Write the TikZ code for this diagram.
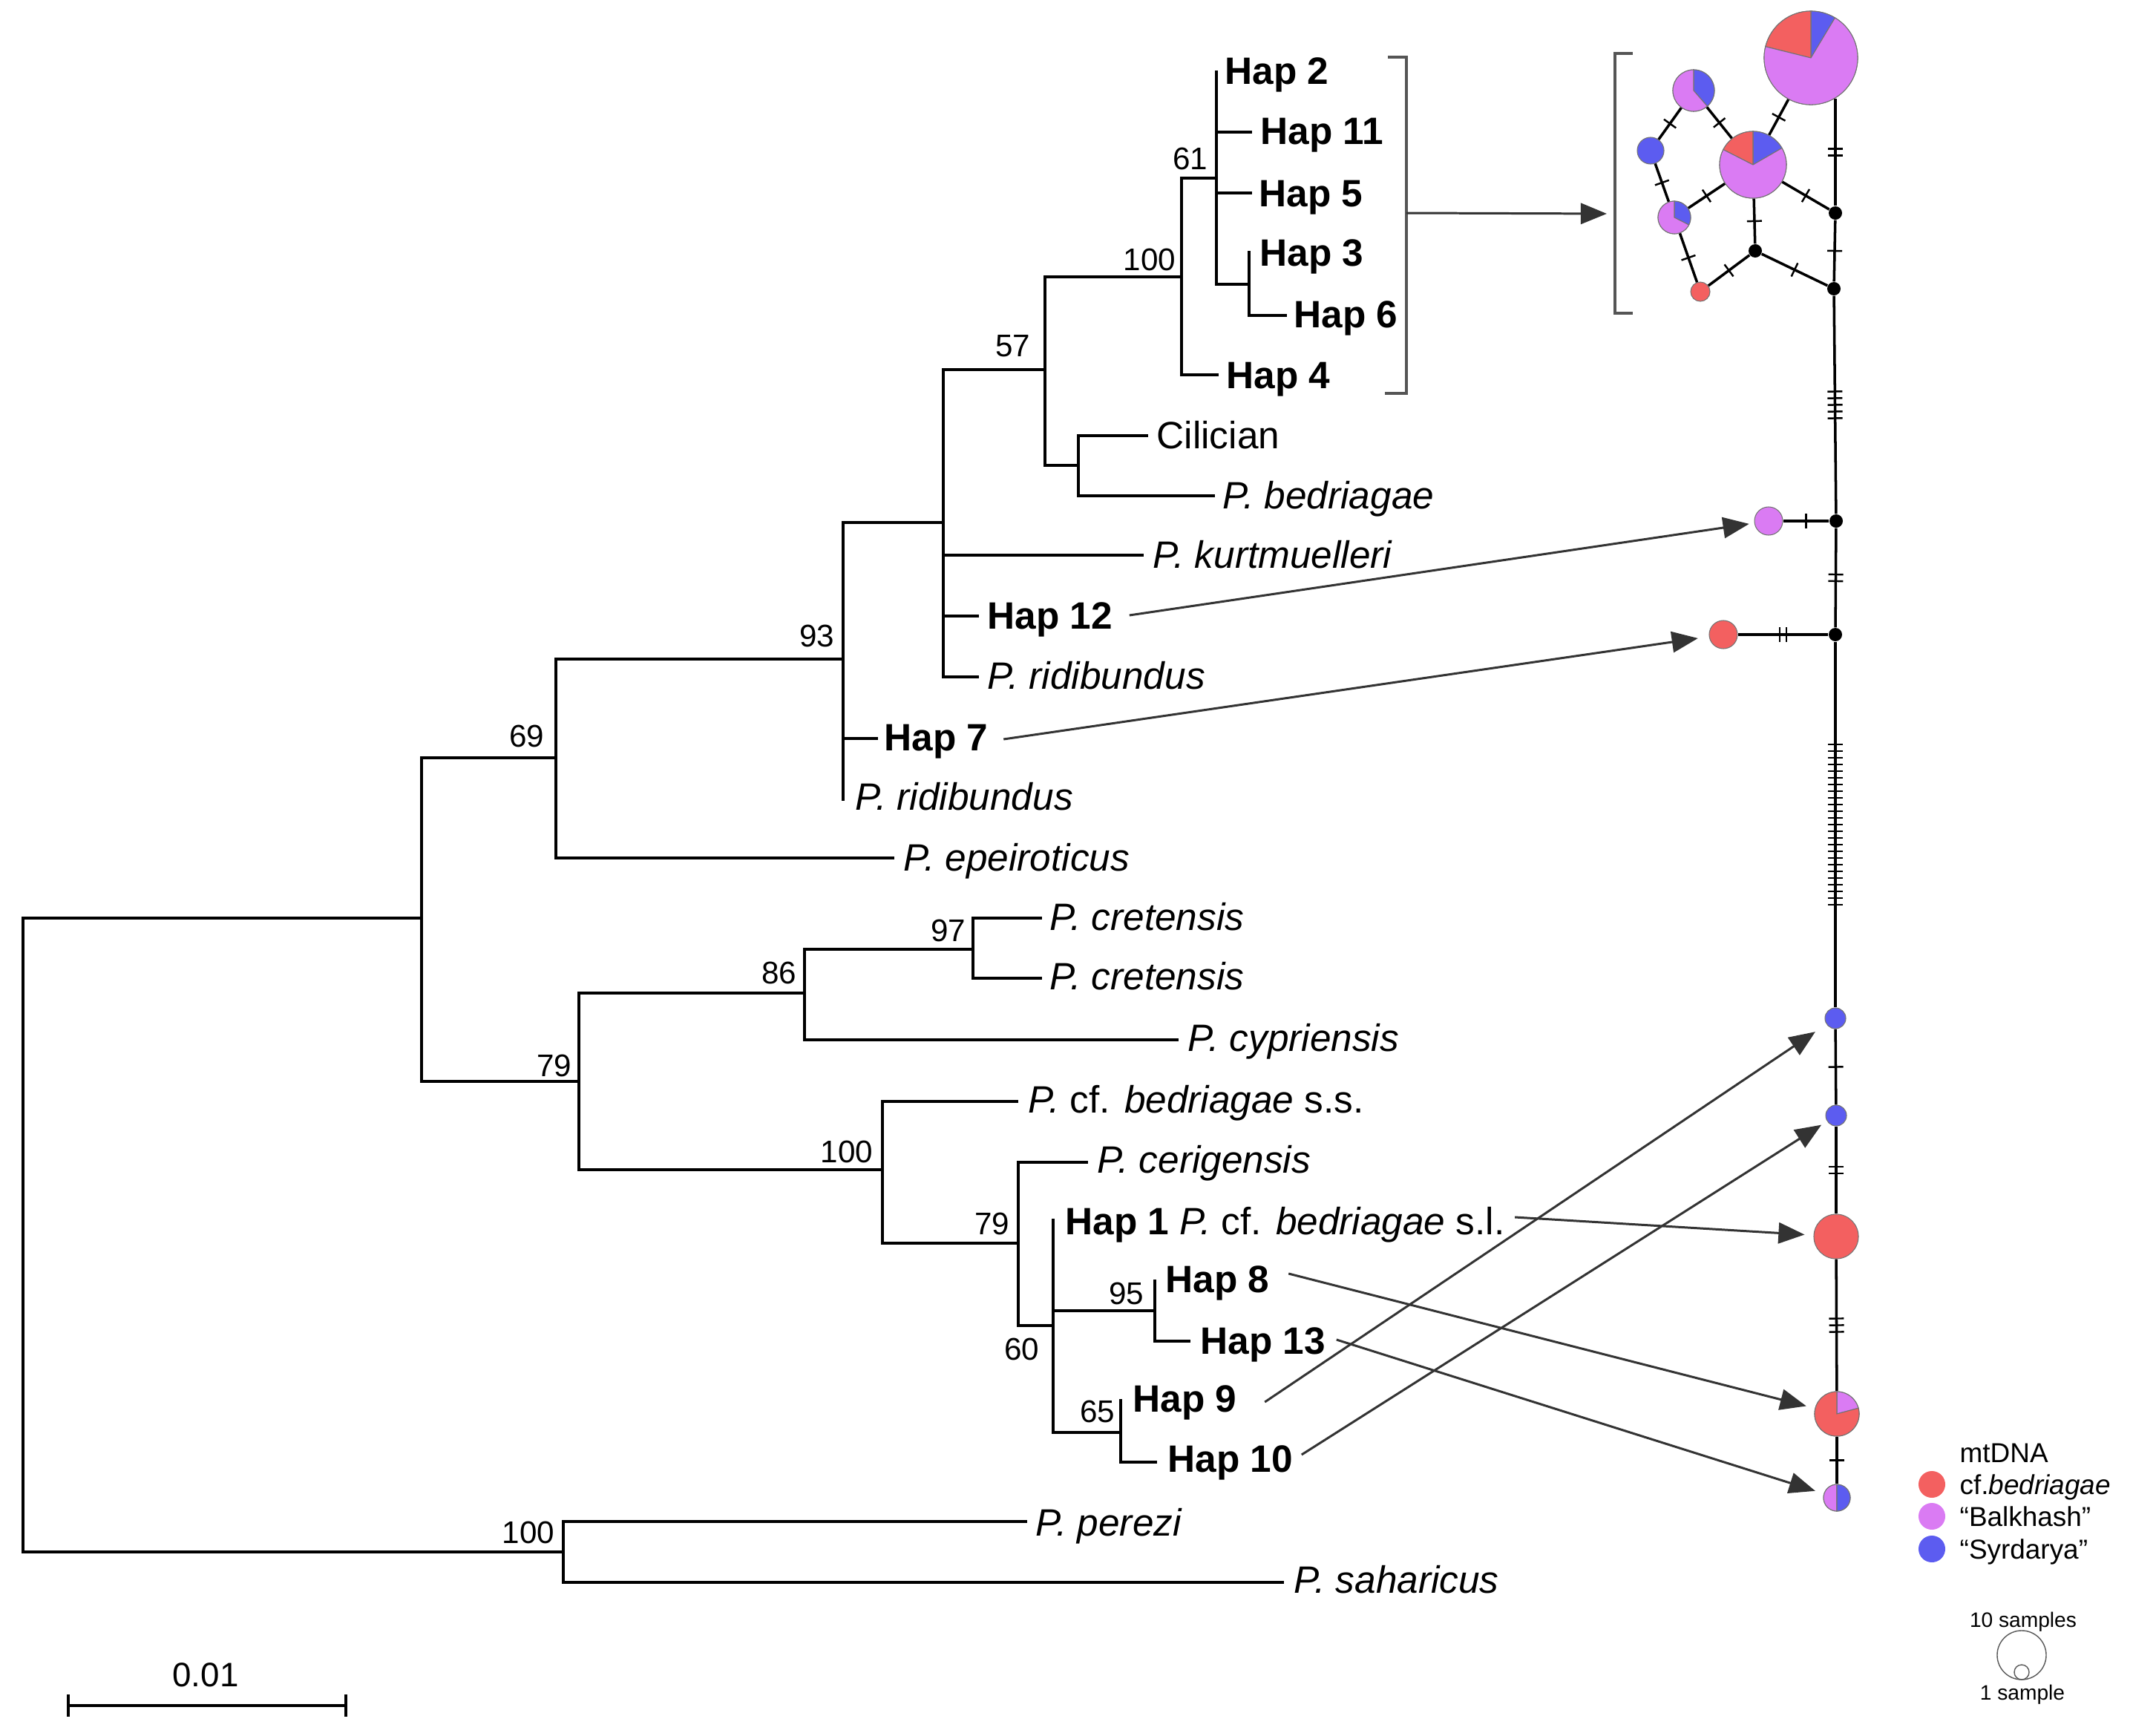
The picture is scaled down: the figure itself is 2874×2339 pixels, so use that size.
\documentclass[tikz,border=0pt]{standalone}
\usepackage{fontspec}
\setmainfont{Liberation Sans}
\usetikzlibrary{arrows.meta,decorations.markings}
\definecolor{hred}{RGB}{243,96,96}
\definecolor{hpink}{RGB}{218,123,243}
\definecolor{hblue}{RGB}{92,92,240}
\definecolor{arrgray}{RGB}{51,51,51}
\definecolor{brkgray}{RGB}{85,85,85}
\newcommand\labfont{\fontsize{14.6}{17}\selectfont}
\newcommand\supfont{\fontsize{12}{14}\selectfont}
\newcommand\hpie[5]{\filldraw[fill=#5, draw=black!55, line width=0.3pt] (#1.center) -- ++(#3:#2) arc[start angle=#3, end angle=#4, radius=#2] -- cycle;}
\tikzset{
  br/.style={line width=1.1pt, line cap=rect},
  lab/.style={anchor=west, inner sep=0pt, text height=10.45pt, text depth=0pt, font=\labfont},
  hlab/.style={lab, font=\labfont\bfseries},
  bs/.style={anchor=east, inner sep=0pt, text height=8.6pt, text depth=0pt, font=\supfont},
  arr/.style={draw=arrgray, line width=0.85pt, -{Triangle[length=10pt,width=8pt]}},
  brk/.style={draw=brkgray, line width=0.9pt},
  net/.style={line width=1pt},
  tickln/.style={line width=0.7pt},
  mut/.style={postaction={decorate, decoration={markings, mark=at position 0.5 with {
     \foreach \i in {1,...,#1}{\draw[tickln] ({(\i-(#1+1)/2)*9},-10) -- ({(\i-(#1+1)/2)*9},10);}}}}},
  nd/.style={circle, inner sep=0pt, draw=black!55, line width=0.3pt},
  dot/.style={circle, inner sep=0pt, fill=black, minimum size=0.18cm},
  lg/.style={anchor=west, inner sep=0pt, text height=7.5pt, text depth=0pt, font=\fontsize{10.5}{12}\selectfont},
  sm/.style={inner sep=0pt, text height=5.7pt, text depth=0pt, font=\fontsize{8}{10}\selectfont}
}
\begin{document}
\begin{tikzpicture}[x=0.01cm,y=-0.01cm]
\useasboundingbox (0,0) rectangle (2874,2339);

% ---------------- tree ----------------
\draw[br] (31,1237) -- (31,2091);
\draw[br] (31,1237) -- (568,1237);
\draw[br] (31,2091) -- (759,2091);
\draw[br] (568,1021) -- (568,1457);
\draw[br] (568,1021) -- (749,1021);
\draw[br] (749,888) -- (749,1156);
\draw[br] (749,1156) -- (1203,1156);
\draw[br] (749,888) -- (1136,888);
\draw[br] (1136,704) -- (1136,1077);
\draw[br] (1136,995) -- (1181,995);
\draw[br] (1136,704) -- (1271,704);
\draw[br] (1271,498) -- (1271,912);
\draw[br] (1271,748) -- (1539,748);
\draw[br] (1271,830) -- (1317,830);
\draw[br] (1271,912) -- (1317,912);
\draw[br] (1271,498) -- (1408,498);
\draw[br] (1408,373) -- (1408,627);
\draw[br] (1408,627) -- (1453,627);
\draw[br] (1453,587) -- (1453,668);
\draw[br] (1453,587) -- (1545,587);
\draw[br] (1453,668) -- (1635,668);
\draw[br] (1408,373) -- (1592,373);
\draw[br] (1592,240) -- (1592,505);
\draw[br] (1592,505) -- (1640,505);
\draw[br] (1592,240) -- (1639,240);
\draw[br] (1639,97) -- (1639,383);
\draw[br] (1639,178) -- (1685,178);
\draw[br] (1639,260) -- (1685,260);
\draw[br] (1639,383) -- (1683,383);
\draw[br] (1683,340) -- (1683,425);
\draw[br] (1683,425) -- (1732,425);
\draw[br] (568,1457) -- (780,1457);
\draw[br] (780,1338) -- (780,1576);
\draw[br] (780,1338) -- (1084,1338);
\draw[br] (1084,1279) -- (1084,1401);
\draw[br] (1084,1401) -- (1586,1401);
\draw[br] (1084,1279) -- (1311,1279);
\draw[br] (1311,1237) -- (1311,1318);
\draw[br] (1311,1237) -- (1402,1237);
\draw[br] (1311,1318) -- (1402,1318);
\draw[br] (780,1576) -- (1189,1576);
\draw[br] (1189,1484) -- (1189,1675);
\draw[br] (1189,1484) -- (1370,1484);
\draw[br] (1189,1675) -- (1372,1675);
\draw[br] (1372,1566) -- (1372,1786);
\draw[br] (1372,1566) -- (1464,1566);
\draw[br] (1372,1786) -- (1419,1786);
\draw[br] (1419,1644) -- (1419,1930);
\draw[br] (1419,1766) -- (1556,1766);
\draw[br] (1556,1726) -- (1556,1807);
\draw[br] (1556,1807) -- (1602,1807);
\draw[br] (1419,1930) -- (1510,1930);
\draw[br] (1510,1887) -- (1510,1970);
\draw[br] (1510,1970) -- (1557,1970);
\draw[br] (759,2050) -- (759,2132);
\draw[br] (759,2050) -- (1382,2050);
\draw[br] (759,2132) -- (1728,2132);

% support values
\node[bs] (s1) at (1585,349) {100};
\node[bs] (s2) at (1628,213) {61};
\node[bs] (s3) at (1389,465) {57};
\node[bs] (s4) at (1125,856) {93};
\node[bs] (s5) at (734,991) {69};
\node[bs] (s6) at (1302,1253) {97};
\node[bs] (s7) at (1074,1310) {86};
\node[bs] (s8) at (771,1435) {79};
\node[bs] (s9) at (1177,1551) {100};
\node[bs] (s10) at (1361,1648) {79};
\node[bs] (s11) at (1401,1817) {60};
\node[bs] (s12) at (1542,1742) {95};
\node[bs] (s13) at (1503,1901) {65};
\node[bs] (s14) at (748,2064) {100};

% leaf labels
\node[hlab] (h2) at (1650,95) {Hap 2};
\node[hlab] (h11) at (1698,176) {Hap 11};
\node[hlab] (h5) at (1696,260) {Hap 5};
\node[hlab] (h3) at (1697,340) {Hap 3};
\node[hlab] (h6) at (1743,423) {Hap 6};
\node[hlab] (h4) at (1652,505) {Hap 4};
\node[lab] (cil) at (1558,586) {Cilician};
\node[lab] (pbed) at (1647,667) {\textit{P. bedriagae}};
\node[lab] (pkur) at (1553,747) {\textit{P. kurtmuelleri}};
\node[hlab] (h12) at (1330,829) {Hap 12};
\node[lab] (prid1) at (1330,910) {\textit{P. ridibundus}};
\node[hlab] (h7) at (1191,993) {Hap 7};
\node[lab] (prid2) at (1152,1073) {\textit{P. ridibundus}};
\node[lab] (pepi) at (1217,1155) {\textit{P. epeiroticus}};
\node[lab] (pcre1) at (1414,1235) {\textit{P. cretensis}};
\node[lab] (pcre2) at (1414,1315) {\textit{P. cretensis}};
\node[lab] (pcyp) at (1600,1398) {\textit{P. cypriensis}};
\node[lab] (pss) at (1385,1481) {\textit{P.} cf. \textit{bedriagae} s.s.};
\node[lab] (pcer) at (1478,1562) {\textit{P. cerigensis}};
\node[lab] (h1) at (1435,1645) {\textbf{Hap 1} \textit{P.} cf. \textit{bedriagae} s.l.};
\node[hlab] (h8) at (1570,1723) {Hap 8};
\node[hlab] (h13) at (1617,1806) {Hap 13};
\node[hlab] (h9) at (1526,1884) {Hap 9};
\node[hlab] (h10) at (1573,1965) {Hap 10};
\node[lab] (pper) at (1395,2051) {\textit{P. perezi}};
\node[lab] (psah) at (1743,2128) {\textit{P. saharicus}};

% scale bar
\draw[line width=0.9pt] (92,2283) -- (92,2313);
\draw[line width=0.9pt] (466,2283) -- (466,2313);
\draw[br] (92,2298) -- (466,2298);
\node[inner sep=0pt, text height=9.3pt, text depth=0pt, font=\fontsize{13}{15}\selectfont] (sc) at (277,2256) {0.01};

% brackets
\draw[brk] (1870,77) -- (1895,77) -- (1895,530) -- (1866,530);
\coordinate (brkm) at (1895,287);
\draw[brk] (2200,72) -- (2176,72) -- (2176,422) -- (2200,422);
\coordinate (nbrk) at (2176,288);
\draw[arr, shorten >=0.11cm] (brkm) -- (nbrk);

% ---------------- network nodes ----------------
\node[nd, minimum size=1.26cm] (np1) at (2440,78) {};
\node[nd, minimum size=0.90cm] (np2) at (2362,222) {};
\node[nd, minimum size=0.56cm] (np3) at (2282,122) {};
\node[nd, fill=hblue, minimum size=0.36cm] (nb1) at (2224,203) {};
\node[nd, minimum size=0.44cm] (np4) at (2256,293) {};
\node[nd, fill=hred, minimum size=0.26cm] (nr1) at (2291,393) {};
\node[dot] (d1) at (2365,338) {};
\node[dot] (d2) at (2473,287) {};
\node[dot] (d3) at (2471,389) {};
\coordinate (np1b) at (2473,133);
\node[dot] (d4) at (2474,702) {};
\node[nd, fill=hpink, minimum size=0.38cm] (nk) at (2383,702) {};
\node[dot] (d5) at (2473,855) {};
\node[nd, fill=hred, minimum size=0.38cm] (nr2) at (2322,855) {};
\node[nd, fill=hblue, minimum size=0.28cm] (nb2) at (2473,1372) {};
\node[nd, fill=hblue, minimum size=0.28cm] (nb3) at (2474,1503) {};
\node[nd, fill=hred, minimum size=0.60cm] (nr3) at (2474,1666) {};
\node[nd, minimum size=0.60cm] (np5) at (2475,1905) {};
\node[nd, minimum size=0.36cm] (np6) at (2475,2018) {};

% network edges
\draw[net, mut=1] (np3) -- (nb1);
\draw[net, mut=1] (np3) -- (np2);
\draw[net, mut=1] (nb1) -- (np4);
\draw[net, mut=1] (np4) -- (np2);
\draw[net, mut=1] (np4) -- (nr1);
\draw[net, mut=1] (nr1) -- (d1);
\draw[net, mut=1] (np2) -- (d1);
\draw[net, mut=1] (np2) -- (np1);
\draw[net, mut=1] (np2) -- (d2);
\draw[net, mut=1] (d1) -- (d3);
\draw[net, mut=2] (np1b) -- (d2);
\draw[net, mut=1] (d2) -- (d3);
\draw[net, mut=5] (d3) -- (d4);
\draw[net, mut=1] (d4) -- (nk);
\draw[net, mut=2] (d4) -- (d5);
\draw[net, mut=2] (d5) -- (nr2);
\draw[net, mut=25] (d5) -- (nb2);
\draw[net, mut=1] (nb2) -- (nb3);
\draw[net, mut=2] (nb3) -- (nr3);
\draw[net, mut=3] (nr3) -- (np5);
\draw[net, mut=1] (np5) -- (np6);

% pies
\hpie{np1}{0.63cm}{59}{90}{hblue}
\hpie{np1}{0.63cm}{90}{166}{hred}
\hpie{np1}{0.63cm}{166}{419}{hpink}
\hpie{np2}{0.45cm}{30}{90}{hblue}
\hpie{np2}{0.45cm}{90}{153}{hred}
\hpie{np2}{0.45cm}{153}{390}{hpink}
\hpie{np3}{0.28cm}{-49}{90}{hblue}
\hpie{np3}{0.28cm}{90}{311}{hpink}
\hpie{np4}{0.22cm}{-27}{90}{hblue}
\hpie{np4}{0.22cm}{90}{333}{hpink}
\hpie{np5}{0.30cm}{15}{90}{hpink}
\hpie{np5}{0.30cm}{90}{375}{hred}
\hpie{np6}{0.18cm}{90}{270}{hpink}
\hpie{np6}{0.18cm}{270}{450}{hblue}

% arrows from tree to network
\draw[arr, shorten >=0.07cm] ([shift={(22,0)}]h12.east) -- (nk);
\draw[arr, shorten >=0.15cm] ([shift={(20,3)}]h7.east) -- (nr2);
\draw[arr, shorten >=0.12cm] ([shift={(13,-5)}]h1.east) -- (nr3);
\draw[arr, shorten >=0.12cm] ([shift={(25,-7)}]h8.east) -- (np5);
\draw[arr, shorten >=0.12cm] ([shift={(14,-1)}]h13.east) -- (np6);
\draw[arr, shorten >=0.18cm] ([shift={(37,5)}]h9.east) -- (nb2);
\draw[arr, shorten >=0.09cm] ([shift={(11,-5)}]h10.east) -- (nb3);

% legend
\node[lg] (lt0) at (2640,1957) {mtDNA};
\node[circle, inner sep=0pt, fill=hred, minimum size=0.36cm] (lc1) at (2603,2000) {};
\node[circle, inner sep=0pt, fill=hpink, minimum size=0.36cm] (lc2) at (2603,2043) {};
\node[circle, inner sep=0pt, fill=hblue, minimum size=0.36cm] (lc3) at (2603,2087) {};
\node[lg] (lt1) at (2640,2000) {cf.\textit{bedriagae}};
\node[lg] (lt2) at (2640,2043) {“Balkhash”};
\node[lg] (lt3) at (2640,2087) {“Syrdarya”};
\node[sm] (ls10) at (2726,2182) {10 samples};
\node[circle, inner sep=0pt, draw=black!65, line width=0.4pt, minimum size=0.66cm] (lcb) at (2724,2230) {};
\node[circle, inner sep=0pt, draw=black!65, line width=0.4pt, minimum size=0.20cm] (lcs) at (2724,2253) {};
\node[sm] (ls1) at (2725,2280) {1 sample};
\end{tikzpicture}
\end{document}
